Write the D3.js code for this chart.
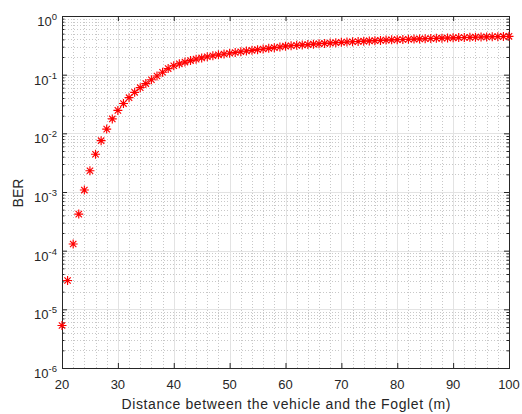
<!DOCTYPE html>
<html>
<head>
<meta charset="utf-8">
<script src="https://cdn.jsdelivr.net/npm/d3@7"></script>
<style>
  html, body { margin: 0; padding: 0; background: #fff; }
  svg { display: block; }
  text { font-family: "Liberation Sans", Arial, Helvetica, sans-serif; fill: #262626; }
</style>
</head>
<body>
<svg id="chart" width="522" height="414"></svg>
<script>
// ---- data ----
const distances = d3.range(20, 101); // 20..100 m
const berValues = [
  5.3e-6, 3.1e-5, 1.3e-4, 4.2e-4, 1.08e-3, 2.3e-3, 4.4e-3, 7.5e-3, 0.0118, 0.0176,
  0.0246, 0.0322, 0.0405, 0.0500, 0.0600, 0.0705, 0.0820, 0.0950, 0.110, 0.127,
  0.142, 0.153, 0.164, 0.174, 0.184, 0.193, 0.202, 0.210, 0.218, 0.225,
  0.232, 0.239, 0.246, 0.253, 0.260, 0.267, 0.274, 0.281, 0.289, 0.296,
  0.306, 0.311, 0.316, 0.321, 0.326, 0.331, 0.336, 0.341, 0.346, 0.351,
  0.356, 0.360, 0.364, 0.368, 0.372, 0.376, 0.380, 0.384, 0.388, 0.392,
  0.395, 0.398, 0.401, 0.404, 0.407, 0.410, 0.413, 0.416, 0.419, 0.422,
  0.425, 0.428, 0.430, 0.433, 0.435, 0.438, 0.440, 0.443, 0.445, 0.448,
  0.450
];
const xTicks = [20, 30, 40, 50, 60, 70, 80, 90, 100];
const yTickExponents = [-6, -5, -4, -3, -2, -1, 0];
const xLabel = "Distance between the vehicle and the Foglet (m)";
const yLabel = "BER";

(function () {
// ---- layout ----
const svg = d3.select("#chart");
const pL = 62, pR = 509, pT = 16, pB = 368;
const x = d3.scaleLinear().domain([20, 100]).range([pL, pR]);
const y = d3.scaleLog().domain([1e-6, 1]).range([pB, pT]);

const axisColor = "#262626";

// minor grid
const xMinor = d3.range(20, 101, 2).filter(v => v % 10 !== 0);
const yMinor = [];
for (let e = -6; e < 0; e++) for (let m = 2; m <= 9; m++) yMinor.push(m * Math.pow(10, e));

const grid = svg.append("g");
grid.selectAll("line.xminor").data(xMinor).join("line")
  .attr("x1", d => Math.round(x(d)) + 0.5).attr("x2", d => Math.round(x(d)) + 0.5)
  .attr("y1", pT).attr("y2", pB)
  .attr("stroke", "#c8c8c8").attr("stroke-width", 1).attr("stroke-dasharray", "1,2");
grid.selectAll("line.yminor").data(yMinor).join("line")
  .attr("x1", pL).attr("x2", pR)
  .attr("y1", d => Math.round(y(d)) + 0.5).attr("y2", d => Math.round(y(d)) + 0.5)
  .attr("stroke", "#c8c8c8").attr("stroke-width", 1).attr("stroke-dasharray", "1,2");
// major grid
grid.selectAll("line.xmajor").data(xTicks).join("line")
  .attr("x1", d => Math.round(x(d)) + 0.5).attr("x2", d => Math.round(x(d)) + 0.5)
  .attr("y1", pT).attr("y2", pB)
  .attr("stroke", "#e3e3e3").attr("stroke-width", 1);
grid.selectAll("line.ymajor").data(yTickExponents).join("line")
  .attr("x1", pL).attr("x2", pR)
  .attr("y1", d => Math.round(y(Math.pow(10, d))) + 0.5).attr("y2", d => Math.round(y(Math.pow(10, d))) + 0.5)
  .attr("stroke", "#e3e3e3").attr("stroke-width", 1);

// axes with inward ticks
const majY = yTickExponents.map(e => Math.pow(10, e));
const xAxisB = d3.axisBottom(x).tickValues(xTicks).tickSize(-5).tickFormat("");
const xAxisT = d3.axisTop(x).tickValues(xTicks).tickSize(-5).tickFormat("");
const yAxisL = d3.axisLeft(y).tickValues(majY).tickSize(-5).tickFormat("");
const yAxisR = d3.axisRight(y).tickValues(majY).tickSize(-5).tickFormat("");
const yMinL = d3.axisLeft(y).tickValues(yMinor).tickSize(-2.5).tickFormat("");
const yMinR = d3.axisRight(y).tickValues(yMinor).tickSize(-2.5).tickFormat("");

function style(g) {
  g.select(".domain").remove();
  g.selectAll("line").attr("stroke", axisColor).attr("stroke-width", 1);
}
svg.append("g").attr("transform", `translate(0,${pB})`).call(xAxisB).call(style);
svg.append("g").attr("transform", `translate(0,${pT})`).call(xAxisT).call(style);
svg.append("g").attr("transform", `translate(${pL},0)`).call(yAxisL).call(style);
svg.append("g").attr("transform", `translate(${pR},0)`).call(yAxisR).call(style);
svg.append("g").attr("transform", `translate(${pL},0)`).call(yMinL).call(style);
svg.append("g").attr("transform", `translate(${pR},0)`).call(yMinR).call(style);

// box
svg.append("rect")
  .attr("x", pL + 0.5).attr("y", pT + 0.5)
  .attr("width", pR - pL).attr("height", pB - pT)
  .attr("fill", "none").attr("stroke", axisColor).attr("stroke-width", 1);

// x tick labels
svg.append("g").selectAll("text").data(xTicks).join("text")
  .attr("x", d => x(d)).attr("y", pB + 21)
  .attr("text-anchor", "middle").attr("font-size", 13)
  .text(d => d);

// y tick labels (10^e)
const yl = svg.append("g").selectAll("text").data(yTickExponents).join("text")
  .attr("x", pL - 5).attr("y", d => y(Math.pow(10, d)) + 10)
  .attr("text-anchor", "end").attr("font-size", 13);
yl.append("tspan").text("10");
yl.append("tspan").attr("dy", -6).attr("font-size", 9.5).text(d => d === 0 ? "0" : "-" + Math.abs(d));

// axis labels
svg.append("text").attr("x", (pL + pR) / 2 + 0.5).attr("y", 409)
  .attr("text-anchor", "middle").attr("font-size", 14)
  .attr("textLength", 329).attr("lengthAdjust", "spacing").text(xLabel);
svg.append("text").attr("transform", `translate(23,${(pT + pB) / 2 + 1}) rotate(-90)`)
  .attr("text-anchor", "middle").attr("font-size", 14).text(yLabel);

// asterisk markers (plus + x)
const asterisk = {
  draw(ctx, size) {
    const r = Math.sqrt(size) / 2;
    const d = r * 0.7071;
    ctx.moveTo(-r, 0); ctx.lineTo(r, 0);
    ctx.moveTo(0, -r); ctx.lineTo(0, r);
    ctx.moveTo(-d, -d); ctx.lineTo(d, d);
    ctx.moveTo(-d, d); ctx.lineTo(d, -d);
  }
};
const pts = distances.map((dd, i) => ({ d: dd, v: berValues[i] }));
svg.append("g").selectAll("path").data(pts).join("path")
  .attr("transform", p => `translate(${x(p.d)},${y(p.v)})`)
  .attr("d", d3.symbol().type(asterisk).size(81))
  .attr("fill", "none").attr("stroke", "#ff0000").attr("stroke-width", 1.15);
})();
</script>
</body>
</html>
